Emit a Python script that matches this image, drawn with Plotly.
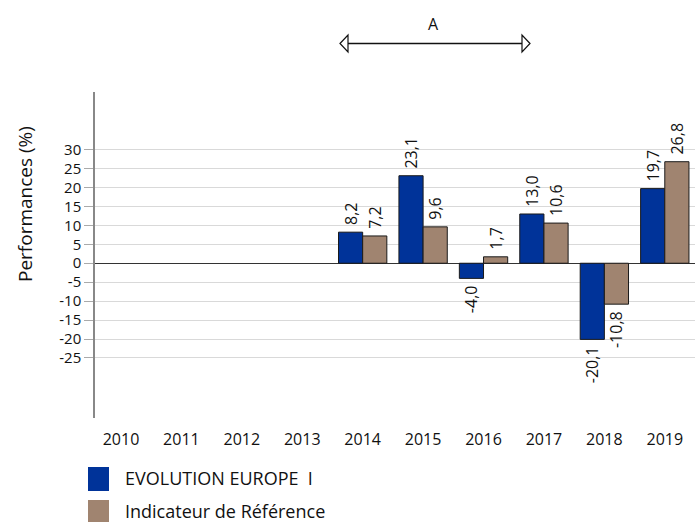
import plotly.graph_objects as go

years = ["2010", "2011", "2012", "2013", "2014", "2015", "2016", "2017", "2018", "2019"]
fund_name = "EVOLUTION EUROPE  I"
fund_values = [None, None, None, None, 8.2, 23.1, -4.0, 13.0, -20.1, 19.7]
bench_name = "Indicateur de Référence"
bench_values = [None, None, None, None, 7.2, 9.6, 1.7, 10.6, -10.8, 26.8]
y_ticks = [30, 25, 20, 15, 10, 5, 0, -5, -10, -15, -20, -25]
y_title = "Performances (%)"
period_label = "A"

fund_color = "#003399"
bench_color = "#A08470"
FONT = "Open Sans"
NBSP = "\u00a0"


def fmt(v):
    if v is None:
        return ""
    s = f"{v:.1f}".replace(".", ",")
    return NBSP + s if v >= 0 else s + NBSP


fig = go.Figure()
for name, vals, col in [(fund_name, fund_values, fund_color), (bench_name, bench_values, bench_color)]:
    fig.add_trace(go.Bar(
        x=years, y=vals, name=name,
        marker=dict(color=col, line=dict(color="#1a1a1a", width=1)),
        text=[fmt(v) for v in vals], textposition="outside", textangle=-90,
        textfont=dict(family=FONT, size=16, color="#111"),
        constraintext="none", cliponaxis=False, showlegend=False,
    ))

fig.update_layout(
    width=700, height=522,
    margin=dict(l=95, r=5, t=92, b=104),
    paper_bgcolor="white", plot_bgcolor="white",
    barmode="group", bargap=0.2, bargroupgap=0,
    font=dict(family=FONT, size=15, color="#111"),
    showlegend=False,
)
fig.update_xaxes(
    type="category", range=[-0.43, 9.5], showline=False, showgrid=False,
    ticks="", ticklabelstandoff=10, tickfont=dict(family=FONT, size=16, color="#111"),
)
fig.update_yaxes(
    range=[-40.85, 45.2], tickvals=y_ticks, ticktext=[str(t) for t in y_ticks],
    showgrid=True, gridcolor="#d9d9d9", gridwidth=1.3,
    zeroline=True, zerolinecolor="#333", zerolinewidth=1.2,
    showline=True, linecolor="#888", linewidth=1.5,
    ticks="outside", ticklen=9, tickcolor="#aaa", tickwidth=1.2,
    tickfont=dict(family=FONT, size=15, color="#111"),
)


def px2x(px):
    return (px - 95) / 600.0


def py2y(py):
    return (522 - 104 - py) / 326.0


# Y axis title
fig.add_annotation(xref="paper", yref="paper", x=px2x(25), y=py2y(204), text=y_title,
                   textangle=-90, showarrow=False, xanchor="center", yanchor="middle",
                   font=dict(family=FONT, size=19, color="#111"))

# Period arrow "A"
ax0, ax1, ay = 340, 530, 43.5
fig.add_shape(type="line", xref="paper", yref="paper",
              x0=px2x(ax0 + 8), x1=px2x(ax1 - 8), y0=py2y(ay), y1=py2y(ay),
              line=dict(color="#111", width=1.5))
fig.add_shape(type="path", xref="paper", yref="paper",
              path=f"M {px2x(ax0)} {py2y(ay)} L {px2x(ax0+8)} {py2y(ay-8.5)} L {px2x(ax0+8)} {py2y(ay+8.5)} Z",
              line=dict(color="#111", width=1.2), fillcolor="white")
fig.add_shape(type="path", xref="paper", yref="paper",
              path=f"M {px2x(ax1)} {py2y(ay)} L {px2x(ax1-8)} {py2y(ay-8.5)} L {px2x(ax1-8)} {py2y(ay+8.5)} Z",
              line=dict(color="#111", width=1.2), fillcolor="white")
fig.add_annotation(xref="paper", yref="paper", x=px2x(434), y=py2y(24), text=period_label,
                   showarrow=False, xanchor="center", yanchor="middle",
                   font=dict(family=FONT, size=16, color="#111"))

# Manual legend
for i, (name, col) in enumerate([(fund_name, fund_color), (bench_name, bench_color)]):
    cy = 479 + i * 33
    fig.add_shape(type="rect", xref="paper", yref="paper",
                  x0=px2x(88), x1=px2x(109), y0=py2y(cy - 12), y1=py2y(cy + 12),
                  line=dict(width=0), fillcolor=col)
    fig.add_annotation(xref="paper", yref="paper", x=px2x(123), y=py2y(cy - 1), text=name,
                       showarrow=False, xanchor="left", yanchor="middle",
                       font=dict(family=FONT, size=18, color="#111"))

fig.write_html("out.html", config={"displayModeBar": False},
               post_script="document.body.style.margin='0px';document.body.style.overflow='hidden';")
